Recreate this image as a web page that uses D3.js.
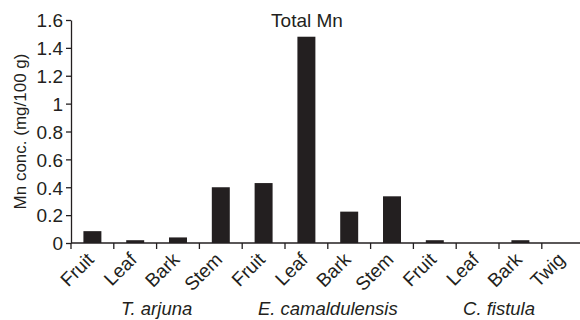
<!DOCTYPE html>
<html>
<head>
<meta charset="utf-8">
<script src="https://cdn.jsdelivr.net/npm/d3@7"></script>
<style>
  body { margin: 0; background: #fff; }
  svg text { font-family: "Liberation Sans", Arial, sans-serif; fill: #231f20; }
</style>
</head>
<body>
<svg id="mn_plot" width="580" height="320"></svg>
<script>
// ====================== DATA ======================
const parts = ["Fruit", "Leaf", "Bark", "Stem", "Fruit", "Leaf", "Bark", "Stem", "Fruit", "Leaf", "Bark", "Twig"];
const mnValues = [0.085, 0.02, 0.04, 0.40, 0.43, 1.48, 0.225, 0.335, 0.02, 0, 0.02, 0];
const species = ["T. arjuna", "E. camaldulensis", "C. fistula"];
const speciesSize = [4, 4, 4];
const yTicks = [0, 0.2, 0.4, 0.6, 0.8, 1, 1.2, 1.4, 1.6];

// ====================== LAYOUT ======================
let mn_marginLeft = 71;
let mn_top = 20;
let mn_bottom = 243;
let mn_step = 42.8;
let mn_axisEnd = 580;
let mn_font = "19px";
let ink = "#231f20";

let svg = d3.select("#mn_plot");

let xScaleMn = d3.scaleBand()
  .domain(d3.range(parts.length))
  .range([mn_marginLeft, mn_marginLeft + mn_step * parts.length])
  .paddingInner(0.58)
  .paddingOuter(0.29);

let yScaleMn = d3.scaleLinear()
  .domain([0, 1.6])
  .range([mn_bottom, mn_top]);

// bars
svg.append("g")
  .selectAll("rect")
  .data(mnValues)
  .enter()
  .append("rect")
  .attr("x", (d, i) => xScaleMn(i))
  .attr("width", xScaleMn.bandwidth())
  .attr("y", d => yScaleMn(d))
  .attr("height", d => mn_bottom - yScaleMn(d))
  .attr("fill", ink);

// y axis
let yAxis = svg.append("g")
  .attr("transform", `translate(${mn_marginLeft},0)`)
  .call(d3.axisLeft(yScaleMn).tickValues(yTicks).tickFormat(d3.format("~g")).tickSize(5).tickSizeOuter(0));
yAxis.select(".domain").attr("stroke", ink).attr("stroke-width", 1.3);
yAxis.selectAll(".tick line").attr("stroke", ink).attr("stroke-width", 1.3);
yAxis.selectAll(".tick text")
  .attr("x", -8)
  .attr("dy", "0.36em")
  .style("font-size", mn_font)
  .style("font-family", "'Liberation Sans', Arial, sans-serif")
  .attr("fill", ink);

// x axis line + ticks at slot starts
let xg = svg.append("g");
xg.append("line")
  .attr("x1", mn_marginLeft).attr("x2", mn_axisEnd)
  .attr("y1", mn_bottom).attr("y2", mn_bottom)
  .attr("stroke", ink).attr("stroke-width", 1.3);
xg.selectAll(".xtick")
  .data(parts)
  .enter()
  .append("line")
  .attr("x1", (d, i) => xScaleMn(i) - xScaleMn.step() * xScaleMn.paddingInner() / 2)
  .attr("x2", (d, i) => xScaleMn(i) - xScaleMn.step() * xScaleMn.paddingInner() / 2)
  .attr("y1", mn_bottom).attr("y2", mn_bottom + 6)
  .attr("stroke", ink).attr("stroke-width", 1.3);

// rotated part labels
xg.selectAll(".xlabel")
  .data(parts)
  .enter()
  .append("text")
  .attr("transform", (d, i) => `translate(${xScaleMn(i) + xScaleMn.bandwidth() / 2 - 2},${mn_bottom + 13}) rotate(-45)`)
  .style("text-anchor", "end")
  .style("font-size", mn_font)
  .attr("dy", "0.35em")
  .text(d => d);

// species labels, centred under their group of parts
let starts = d3.cumsum([0].concat(speciesSize.slice(0, -1)));
svg.selectAll(".species")
  .data(species)
  .enter()
  .append("text")
  .attr("x", (d, i) => mn_marginLeft + mn_step * (starts[i] + speciesSize[i] / 2))
  .attr("y", 315)
  .style("text-anchor", "middle")
  .style("font-style", "italic")
  .style("font-size", "18.5px")
  .text(d => d);

// y label
svg.append("text")
  .attr("transform", `translate(26,${(mn_top + mn_bottom) / 2}) rotate(-90)`)
  .style("text-anchor", "middle")
  .style("font-size", "17px")
  .text("Mn conc. (mg/100 g)");

// title
svg.append("text")
  .attr("x", 307)
  .attr("y", 27)
  .style("text-anchor", "middle")
  .style("font-size", mn_font)
  .text("Total Mn");
</script>
</body>
</html>
